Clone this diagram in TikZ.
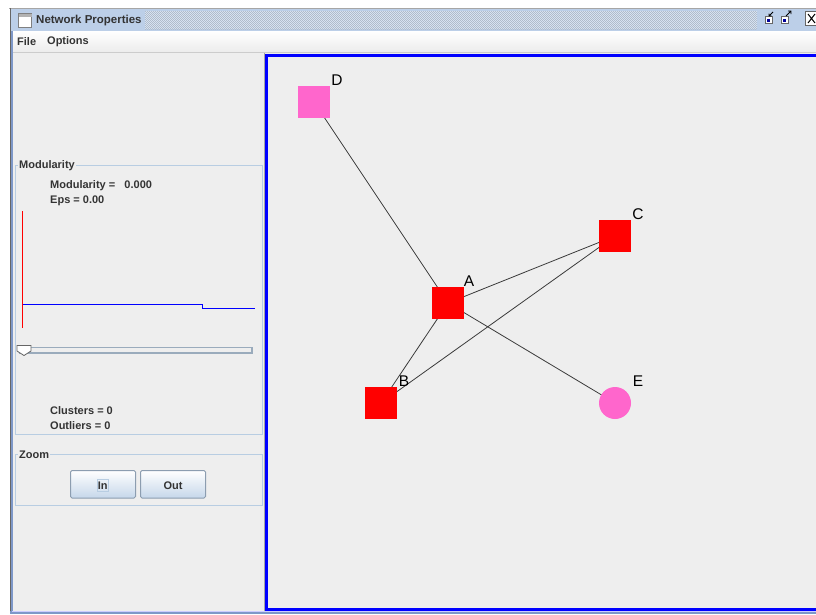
\documentclass[tikz,border=0pt]{standalone}
\usepackage{fontspec}
\setmainfont{Liberation Sans}
\definecolor{panelbg}{HTML}{EEEEEE}
\definecolor{titlebar}{HTML}{BCCFE8}
\definecolor{dither}{HTML}{B0BCCB}
\definecolor{frameline}{HTML}{B8CDE2}
\definecolor{uitextc}{HTML}{333333}
\definecolor{btnborder}{HTML}{8C9DB0}
\definecolor{btnlow}{HTML}{C6D7EA}
\definecolor{sliderc}{HTML}{9AABBC}
\definecolor{winborder}{HTML}{7E98C8}
\definecolor{nodered}{HTML}{FF0000}
\definecolor{nodepink}{HTML}{FF66CC}
\definecolor{edgec}{HTML}{3A3A3A}
\tikzset{
  uitext/.style={font=\bfseries\fontsize{11}{13}\selectfont, text=uitextc, inner sep=0pt, anchor=west},
  glabel/.style={font=\fontsize{15.5}{17}\selectfont, text=black, inner sep=0pt},
  sqnode/.style={rectangle, minimum width=32pt, minimum height=32pt, inner sep=0pt},
  rdnode/.style={circle, minimum size=32pt, inner sep=0pt},
  edge/.style={draw=edgec, line width=0.8pt},
  titledbox/.style={draw=frameline, line width=1pt},
  uibutton/.style={draw=btnborder, line width=1pt, rounded corners=1.5pt, top color=white, bottom color=btnlow},
}
\begin{document}
\begin{tikzpicture}[x=1pt, y=-1pt]
\useasboundingbox (0,0) rectangle (816,614);
\fill[white] (0,0) rectangle (816,614);

% window frame and title bar
\fill[titlebar] (10,8) rectangle (816,31);
\begin{scope}
  \clip (145,11) rectangle (757,29);
  \fill[white!40!titlebar] (145,11) rectangle (757,29);
  \foreach \yy in {11,13,...,29} {
    \draw[dither, line width=0.6pt, dash pattern=on 1pt off 1pt] (145,\yy) -- (757,\yy);
    \draw[dither, line width=0.6pt, dash pattern=on 1pt off 1pt, dash phase=1pt] (145,\yy+1) -- (757,\yy+1);
  }
\end{scope}
\draw[gray!70, line width=1pt] (9,8) -- (816,8);
\draw[fill=white, draw=gray] (18.5,13.5) rectangle (31.5,27.5);
\fill[gray!60] (18.5,13.5) rectangle (31.5,17);
\node[uitext, font=\bfseries\fontsize{11.5}{13}\selectfont] (title) at (36,21) {Network Properties};

% title bar buttons
\draw[fill=white, draw=gray!80!black] (765,16.5) rectangle (772,23.5);
\fill[blue!60!black] (767,19) rectangle (770,22);
\draw[black, line width=0.8pt] (773,12) -- (769,16) (769,13.5) -- (769,16) -- (771.5,16);
\draw[fill=white, draw=gray!80!black] (781,16.5) rectangle (788,23.5);
\fill[blue!60!black] (783,19) rectangle (786,22);
\draw[black, line width=0.8pt] (786,16) -- (791,11) (788,11) -- (791,11) -- (791,14);
\draw[fill=white, draw=gray!80!black, line width=0.8pt] (805.5,11.5) rectangle (818,25.5);
\draw[black, line width=1pt] (808,14) -- (815,23) (815,14) -- (808,23);

% menu bar
\shade[top color=white, bottom color=gray!15] (12,31) rectangle (816,52);
\draw[gray!40] (12,52.5) -- (816,52.5);
\node[uitext] (menufile) at (17,42) {File};
\node[uitext] (menuopt) at (47,42) {Options};

% content area
\fill[panelbg] (12,53) rectangle (816,611);
\draw[gray!80!black, line width=1pt] (10.5,8) -- (10.5,614);
\draw[winborder, line width=1.5pt] (12,31) -- (12,614);
\fill[winborder] (10,611) rectangle (816,614);
\draw[blue!20, line width=0.6pt] (12,611.3) -- (816,611.3);

% modularity panel
\draw[titledbox] (15.5,165.5) rectangle (262.5,434.5);
\node[uitext, fill=panelbg, inner xsep=1pt] (modtitle) at (18,166) {Modularity};
\node[uitext] (modval) at (50,185.5) {Modularity =\ \ \ 0.000};
\node[uitext] (epsval) at (50,200.5) {Eps = 0.00};
\draw[red, line width=1pt] (22.5,211) -- (22.5,328);
\draw[blue, line width=1pt] (22.5,304.5) -- (202.5,304.5) -- (202.5,308.5) -- (255,308.5);
\draw[sliderc, fill=panelbg, line width=1.2pt] (20,347.5) rectangle (252,353);
\draw[fill=white, draw=gray!80!black, line width=0.8pt] (17,345.5) -- (31,345.5) -- (31,351) -- (24,355.5) -- (17,351) -- cycle;
\node[uitext] (clusters) at (50,411) {Clusters = 0};
\node[uitext] (outliers) at (50,426) {Outliers = 0};

% zoom panel
\draw[titledbox] (15.5,454.5) rectangle (262.5,505.5);
\node[uitext, fill=panelbg, inner xsep=1pt] (zoomtitle) at (18,455) {Zoom};
\draw[uibutton] (70.5,470.5) rectangle (135.5,498);
\draw[uibutton] (140.5,470.5) rectangle (205.5,498);
\node[uitext, anchor=center, draw=frameline, line width=0.8pt, inner xsep=1pt, inner ysep=2pt] (btnin) at (102.8,485.5) {In};
\node[uitext, anchor=center] (btnout) at (173,485.5) {Out};

% graph canvas
\draw[gray!70, line width=1pt] (264,53) -- (264,611);
\draw[blue, line width=3pt] (266.5,55) rectangle (820,609);

% network nodes (positions), edges, then nodes painted over the edge ends
\node[sqnode] (D) at (314,102) {};
\node[sqnode] (C) at (615,236) {};
\node[sqnode] (A) at (448,303) {};
\node[sqnode] (B) at (381,403) {};
\node[rdnode] (E) at (615,403) {};

\draw[edge] (D.center) -- (A.center);
\draw[edge] (A.center) -- (C.center);
\draw[edge] (A.center) -- (B.center);
\draw[edge] (A.center) -- (E.center);
\draw[edge] (B.center) -- (C.center);
\fill[nodepink] (D.north west) rectangle (D.south east);
\fill[nodered] (C.north west) rectangle (C.south east);
\fill[nodered] (A.north west) rectangle (A.south east);
\fill[nodered] (B.north west) rectangle (B.south east);
\fill[nodepink] (E.center) circle (16);

\node[glabel] (labD) at (337,80) {D};
\node[glabel] (labC) at (638,214) {C};
\node[glabel] (labA) at (469,281) {A};
\node[glabel] (labB) at (404,381) {B};
\node[glabel] (labE) at (638,381) {E};
\end{tikzpicture}
\end{document}
